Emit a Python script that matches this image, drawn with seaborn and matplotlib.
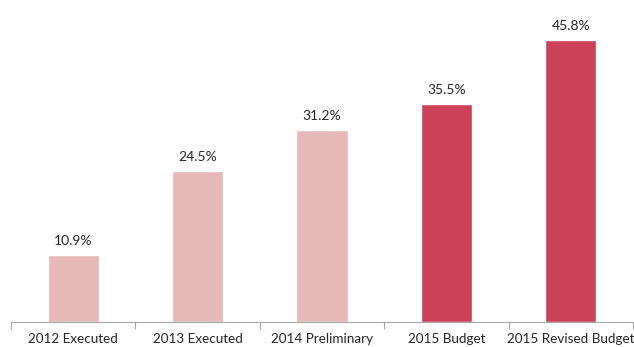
import matplotlib
matplotlib.use("Agg")
import matplotlib.pyplot as plt
import seaborn as sns
import pandas as pd
import numpy as np

categories = ["2012 Executed", "2013 Executed", "2014 Preliminary", "2015 Budget", "2015 Revised Budget"]
values = [10.9, 24.5, 31.2, 35.5, 45.8]
bar_colors = ["#E6B9B8", "#E6B9B8", "#E6B9B8", "#CB4157", "#CB4157"]

sns.set_theme(style="white")
plt.rcParams["font.family"] = ["Lato", "DejaVu Sans"]

df = pd.DataFrame({"category": categories, "value": values})

fig = plt.figure(figsize=(6.34, 3.47), dpi=100)
ax = fig.add_axes([11 / 634, 25 / 347, 622 / 634, 320 / 347])

sns.barplot(data=df, x="category", y="value", hue="category",
            palette=dict(zip(categories, bar_colors)), width=0.41,
            legend=False, ax=ax, saturation=1)

for i, v in enumerate(values):
    ax.text(i, v + 1.3, f"{v:.1f}%", ha="center", va="bottom",
            fontsize=10, color="#262626")

ax.set_ylim(0, 52)
ax.set_xlim(-0.5, len(categories) - 0.5)
ax.set_yticks([])
ax.set_xlabel("")
ax.set_ylabel("")

# tick marks at category boundaries, labels centred under bars
ax.set_xticks(np.arange(-0.5, len(categories)), minor=False)
ax.set_xticklabels([])
ax.set_xticks(np.arange(len(categories)), minor=True)
ax.set_xticklabels(categories, minor=True, fontsize=9.7, color="#262626")
ax.tick_params(axis="x", which="major", direction="out", length=5, width=0.8,
               color="#A6A6A6", bottom=True)
ax.tick_params(axis="x", which="minor", length=0, pad=8, bottom=True)
# keep the widest label inside the canvas
ax.get_xticklabels(minor=True)[-1].set_x(len(categories) - 1.02)

for s in ["top", "left", "right"]:
    ax.spines[s].set_visible(False)
ax.spines["bottom"].set_color("#A6A6A6")
ax.spines["bottom"].set_linewidth(0.8)

fig.savefig("out.png", dpi=100)
